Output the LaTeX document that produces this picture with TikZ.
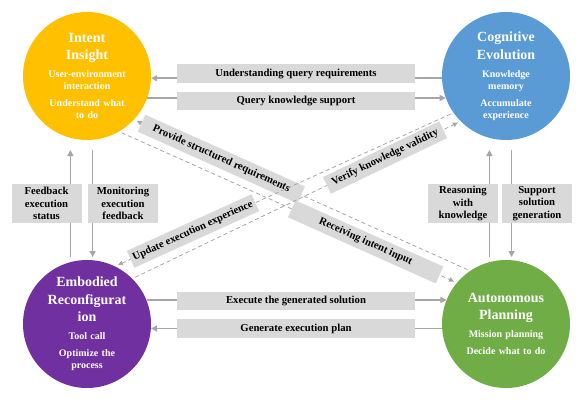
\documentclass[tikz,border=0pt]{standalone}
\usepackage{fontspec}
\setmainfont{Liberation Serif}
\usetikzlibrary{arrows.meta}

\definecolor{insight}{HTML}{FFC000}
\definecolor{evolution}{HTML}{5B9BD5}
\definecolor{reconfig}{HTML}{7030A0}
\definecolor{planning}{HTML}{70AD47}
\definecolor{boxgray}{HTML}{D9D9D9}
\definecolor{linegray}{HTML}{A6A6A6}

\newcommand{\stagetitle}[1]{{\fontsize{14}{17.5}\selectfont #1\par}\vspace{6pt}}

\tikzset{
  stage/.style={circle, minimum size=128pt, inner sep=0pt},
  stage text/.style={text=white, text width=112pt, align=center, inner sep=0pt,
    font=\bfseries\fontsize{10}{12}\selectfont},
  label box/.style={fill=boxgray, inner sep=0pt, minimum height=18.5pt,
    font=\bfseries\fontsize{10.7}{12.5}\selectfont},
  side box/.style={label box, minimum width=70pt, minimum height=39pt, align=center},
  flow/.style={draw=linegray, line width=1.6pt, -{Triangle[length=6pt,width=6pt]}},
  dflow/.style={draw=linegray, line width=0.8pt, dash pattern=on 4pt off 3pt,
    -{Triangle[length=5pt,width=4.5pt]}, shorten <=3pt, shorten >=3pt},
}

\begin{document}
\begin{tikzpicture}[x=1pt, y=1pt]
    \useasboundingbox (0,0) rectangle (585,402);

    % The four stages
    \node[stage, fill=insight] (ii) at (87,326) {};
    \node[stage, fill=evolution] (ce) at (506,326) {};
    \node[stage, fill=reconfig] (er) at (87,78) {};
    \node[stage, fill=planning] (ap) at (506,78) {};

    \node[stage text] (ii-t) at (ii) {\stagetitle{Intent\\Insight}User-environment\\interaction\par\vspace{5pt}Understand what\\to do};
    \node[stage text] (ce-t) at (ce) {\stagetitle{Cognitive\\Evolution}Knowledge\\memory\par\vspace{5pt}Accumulate\\experience};
    \node[stage text] (er-t) at (er) {\stagetitle{Embodied\\Reconfigurat\\ion}Tool call\par\vspace{5pt}Optimize the\\process};
    \node[stage text] (ap-t) at (ap) {\stagetitle{Autonomous\\Planning}Mission planning\par\vspace{5pt}Decide what to do};

    % Top flows
    \draw[flow] (ce.182) -- (ii.-2);
    \node[label box, minimum width=238pt] (uq) at (296,328.5) {Understanding query requirements};
    \draw[flow] (ii.-20) -- (ce.200);
    \node[label box, minimum width=238pt] (qk) at (296,301) {Query knowledge support};

    % Bottom flows
    \draw[flow] (er.22) -- (ap.158);
    \node[label box, minimum width=238pt] (eg) at (296,101) {Execute the generated solution};
    \draw[flow] (ap.184) -- (er.-4);
    \node[label box, minimum width=238pt] (ge) at (296,73.5) {Generate execution plan};

    % Left flows
    \draw[flow, shorten <=5pt, shorten >=12pt] (er.105) -- (ii.255);
    \node[side box] (fb) at (46.5,198.5) {Feedback\\execution\\status};
    \draw[flow, shorten <=10pt, shorten >=3pt] (ii.275) -- (er.85);
    \node[side box] (me) at (123,198.5) {Monitoring\\execution\\feedback};

    % Right flows
    \draw[flow, shorten <=5pt, shorten >=12pt] (ap.105) -- (ce.255);
    \node[side box] (rk) at (463,198.5) {Reasoning\\with\\knowledge};
    \draw[flow, shorten <=10pt, shorten >=3pt] (ce.275) -- (ap.85);
    \node[side box] (ss) at (537,198.5) {Support\\solution\\generation};

    % Crossing flows
    \draw[dflow] (ap.124) -- node[label box, sloped, pos=0.74, minimum width=175pt] (ps) {Provide structured requirements} (ii.-43);
    \draw[dflow] (ii.-60) -- node[label box, sloped, pos=0.73, minimum width=162pt] (ri) {Receiving intent input} (ap.140);
    \draw[dflow] (ce.215) -- node[label box, sloped, pos=0.77, minimum width=137pt] (ue) {Update execution experience} (er.64);
    \draw[dflow] (er.45) -- node[label box, sloped, pos=0.77, minimum width=129pt] (vk) {Verify knowledge validity} (ce.225);

\end{tikzpicture}
\end{document}
